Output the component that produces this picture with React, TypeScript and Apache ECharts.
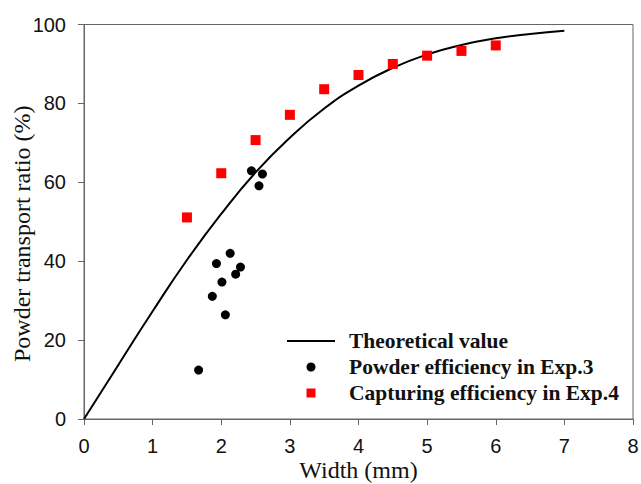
import React, { useEffect, useRef } from "react";
import * as echarts from "echarts";

const theoryX = [0, 0.5, 1, 1.5, 2, 2.5, 3, 3.5, 4, 4.5, 5, 5.5, 6, 6.5, 7];
const theoryY = [0, 13.7, 27.3, 40.3, 52, 62.5, 71.3, 78.7, 84.5, 89, 92.4, 94.8, 96.5, 97.6, 98.4];

const exp3X = [2.44, 2.6, 2.55, 2.13, 1.93, 2.28, 2.21, 2.01, 1.87, 2.06, 1.67];
const exp3Y = [62.9, 62.1, 59.1, 42.0, 39.4, 38.5, 36.7, 34.7, 31.1, 26.4, 12.4];

const exp4X = [1.5, 2, 2.5, 3, 3.5, 4, 4.5, 5, 5.5, 6];
const exp4Y = [51.1, 62.3, 70.7, 77.1, 83.6, 87.2, 90.0, 92.1, 93.3, 94.7];

const xTicks = [0, 1, 2, 3, 4, 5, 6, 7, 8];
const yTicks = [0, 20, 40, 60, 80, 100];

export default function App() {
  const ref = useRef<HTMLDivElement>(null);
  useEffect(() => {
    if (!ref.current) return;
    const chart = echarts.init(ref.current, null, { renderer: "svg" });
    const axisColor = "#666";
    chart.setOption({
      animation: false,
      backgroundColor: "#fff",
      grid: {
        left: 84,
        right: 8,
        top: 24.5,
        bottom: 65,
        show: true,
        borderColor: axisColor,
        borderWidth: 1,
        containLabel: false,
        outerBoundsMode: "none",
      },
      xAxis: {
        type: "value",
        min: xTicks[0],
        max: xTicks[xTicks.length - 1],
        interval: 1,
        name: "Width (mm)",
        nameLocation: "middle",
        nameGap: 39,
        nameMoveOverlap: false,
        nameTextStyle: { fontFamily: "Liberation Serif", fontSize: 24, color: "#111" },
        axisLine: { show: true, lineStyle: { color: axisColor, width: 1 } },
        axisTick: { show: true, inside: false, length: 6, lineStyle: { color: axisColor } },
        axisLabel: { fontFamily: "Liberation Sans", fontSize: 20, color: "#111", margin: 17 },
        splitLine: { show: false },
      },
      yAxis: {
        type: "value",
        min: yTicks[0],
        max: yTicks[yTicks.length - 1],
        interval: 20,
        name: "Powder transport ratio (%)",
        nameLocation: "middle",
        nameGap: 50,
        nameMoveOverlap: false,
        nameTextStyle: {
          fontFamily: "Liberation Serif",
          fontSize: 24,
          color: "#111",
          padding: [0, 24, 0, 0],
        },
        axisLine: { show: true, lineStyle: { color: axisColor, width: 1 } },
        axisTick: { show: true, inside: false, length: 6, lineStyle: { color: axisColor } },
        axisLabel: { fontFamily: "Liberation Sans", fontSize: 20, color: "#111", margin: 18 },
        splitLine: { show: false },
      },
      legend: {
        orient: "vertical",
        left: 287,
        top: 330,
        padding: 0,
        itemWidth: 48,
        itemHeight: 9,
        itemGap: 4,
        textStyle: {
          fontFamily: "Liberation Serif",
          fontWeight: "bold",
          fontSize: 21.5,
          lineHeight: 22,
          color: "#111",
          padding: [0, 0, 0, 9],
        },
        data: [
          { name: "Theoretical value", icon: "path://M0,0 L48,0 L48,2 L0,2 Z" },
          { name: "Powder efficiency in Exp.3", icon: "circle" },
          { name: "Capturing efficiency in Exp.4", icon: "path://M0,0 L10,0 L10,10 L0,10 Z" },
        ],
      },
      series: [
        {
          name: "Theoretical value",
          type: "line",
          smooth: true,
          symbol: "none",
          lineStyle: { color: "#000", width: 2 },
          itemStyle: { color: "#000" },
          data: theoryX.map((x, i) => [x, theoryY[i]]),
          z: 2,
        },
        {
          name: "Powder efficiency in Exp.3",
          type: "scatter",
          symbol: "circle",
          symbolSize: 9,
          itemStyle: { color: "#000", opacity: 1 },
          data: exp3X.map((x, i) => [x, exp3Y[i]]),
          z: 3,
        },
        {
          name: "Capturing efficiency in Exp.4",
          type: "scatter",
          symbol: "rect",
          symbolSize: 10,
          itemStyle: { color: "#ff0000", opacity: 1 },
          data: exp4X.map((x, i) => [x, exp4Y[i]]),
          z: 3,
        },
      ],
    });
    return () => chart.dispose();
  }, []);
  return <div ref={ref} style={{ width: 641, height: 484, position: "absolute", left: 0, top: 0 }} />;
}
